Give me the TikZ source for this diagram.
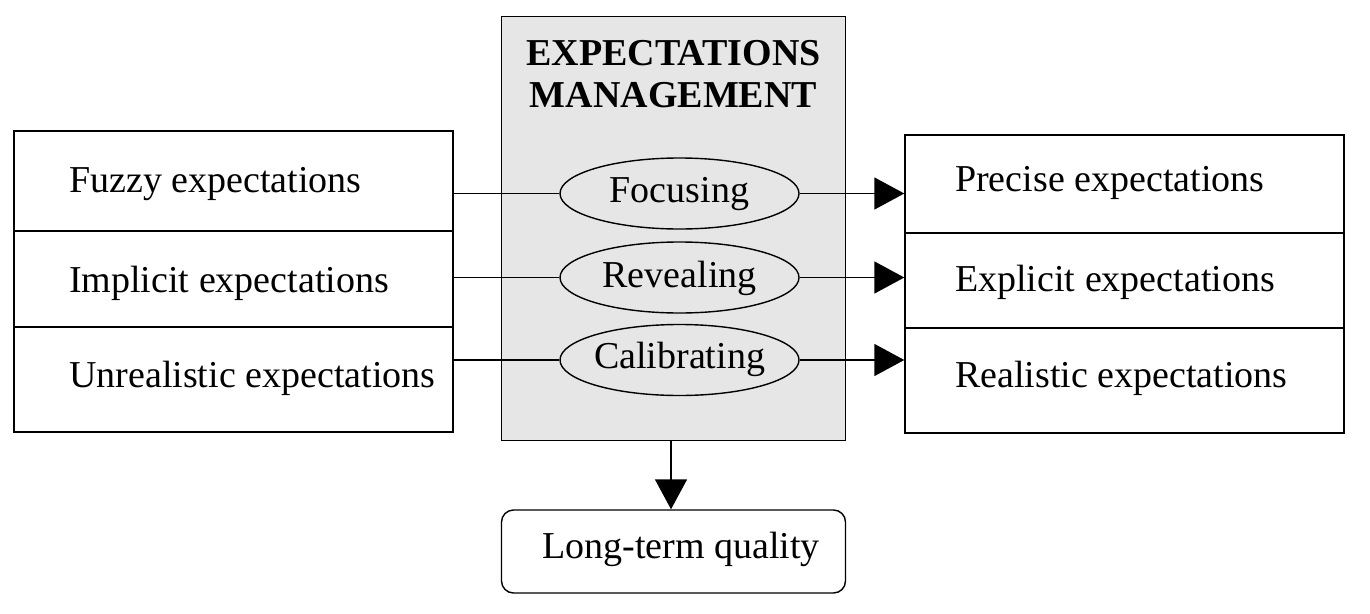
\documentclass[tikz,border=0pt]{standalone}
\usepackage{fontspec}
\setmainfont{Liberation Serif}
\usetikzlibrary{shapes.geometric,arrows.meta}
\definecolor{panel}{HTML}{E6E6E6}
\begin{document}
\begin{tikzpicture}[x=1pt,y=-1pt,
  cell/.style={draw,line width=1.4pt,minimum width=439pt,inner sep=0pt,rectangle},
  txt/.style={anchor=base west,inner sep=0pt,font=\fontsize{38}{44}\selectfont},
  ctxt/.style={anchor=base,inner sep=0pt,font=\fontsize{38}{44}\selectfont},
  ttl/.style={anchor=base,inner sep=0pt,font=\fontsize{38}{44}\selectfont\bfseries},
  oval/.style={draw,line width=1.4pt,fill=panel,ellipse,minimum width=239pt,minimum height=71pt,inner sep=0pt},
  conn/.style={line width=1.5pt},
  arr/.style={line width=1.5pt,-{Triangle[length=30pt,width=32pt]}}]
\useasboundingbox (0,0) rectangle (1370,613);
% center panel
\node[draw,line width=1.4pt,fill=panel,minimum width=344pt,minimum height=424pt,inner sep=0pt] (M) at (673.5,228.5) {};
\node[ttl] (T1) at (673.5,65) {EXPECTATIONS};
\node[ttl] (T2) at (673.5,107) {MANAGEMENT};
% left cells
\node[cell,minimum height=100pt] (L1) at (233.5,181) {};
\node[cell,minimum height=96pt] (L2) at (233.5,279) {};
\node[cell,minimum height=105pt] (L3) at (233.5,379.5) {};
\node[txt] (l1t) at (69,192) {Fuzzy expectations};
\node[txt] (l2t) at (69,292) {Implicit expectations};
\node[txt] (l3t) at (69,387) {Unrealistic expectations};
% right cells
\node[cell,minimum height=98pt] (R1) at (1124.5,184) {};
\node[cell,minimum height=95pt] (R2) at (1124.5,280.5) {};
\node[cell,minimum height=105pt] (R3) at (1124.5,380.5) {};
\node[txt] (r1t) at (955,191) {Precise expectations};
\node[txt] (r2t) at (955,291) {Explicit expectations};
\node[txt] (r3t) at (955,387) {Realistic expectations};
% ellipses
\node[oval] (F) at (679.5,193.5) {};
\node[oval] (V) at (679.5,277.5) {};
\node[oval] (C) at (679.5,360) {};
\node[ctxt] (Ft) at (679.5,202) {Focusing};
\node[ctxt] (Vt) at (679.5,287) {Revealing};
\node[ctxt] (Ct) at (679.5,368) {Calibrating};
% connector anchor points
\coordinate (a1) at (L1.east |- F.west);
\coordinate (a2) at (L2.east |- V.west);
\coordinate (a3) at (L3.east |- C.west);
\coordinate (b1) at (R1.west |- F.east);
\coordinate (b2) at (R2.west |- V.east);
\coordinate (b3) at (R3.west |- C.east);
\draw[conn] (a1) -- (F.west);
\draw[conn] (a2) -- (V.west);
\draw[conn] (a3) -- (C.west);
\draw[arr] (F.east) -- (b1);
\draw[arr] (V.east) -- (b2);
\draw[arr] (C.east) -- (b3);
% bottom
\node[draw,line width=1.4pt,rounded corners=12pt,minimum width=344pt,minimum height=83pt,inner sep=0pt] (Q) at (673.5,551.5) {};
\node[txt] (Qt) at (542,558) {Long-term quality};
\coordinate (m1) at (671,441);
\coordinate (q1) at (671,508);
\draw[arr] (M.south -| m1) -- (Q.north -| q1);
\end{tikzpicture}
\end{document}
